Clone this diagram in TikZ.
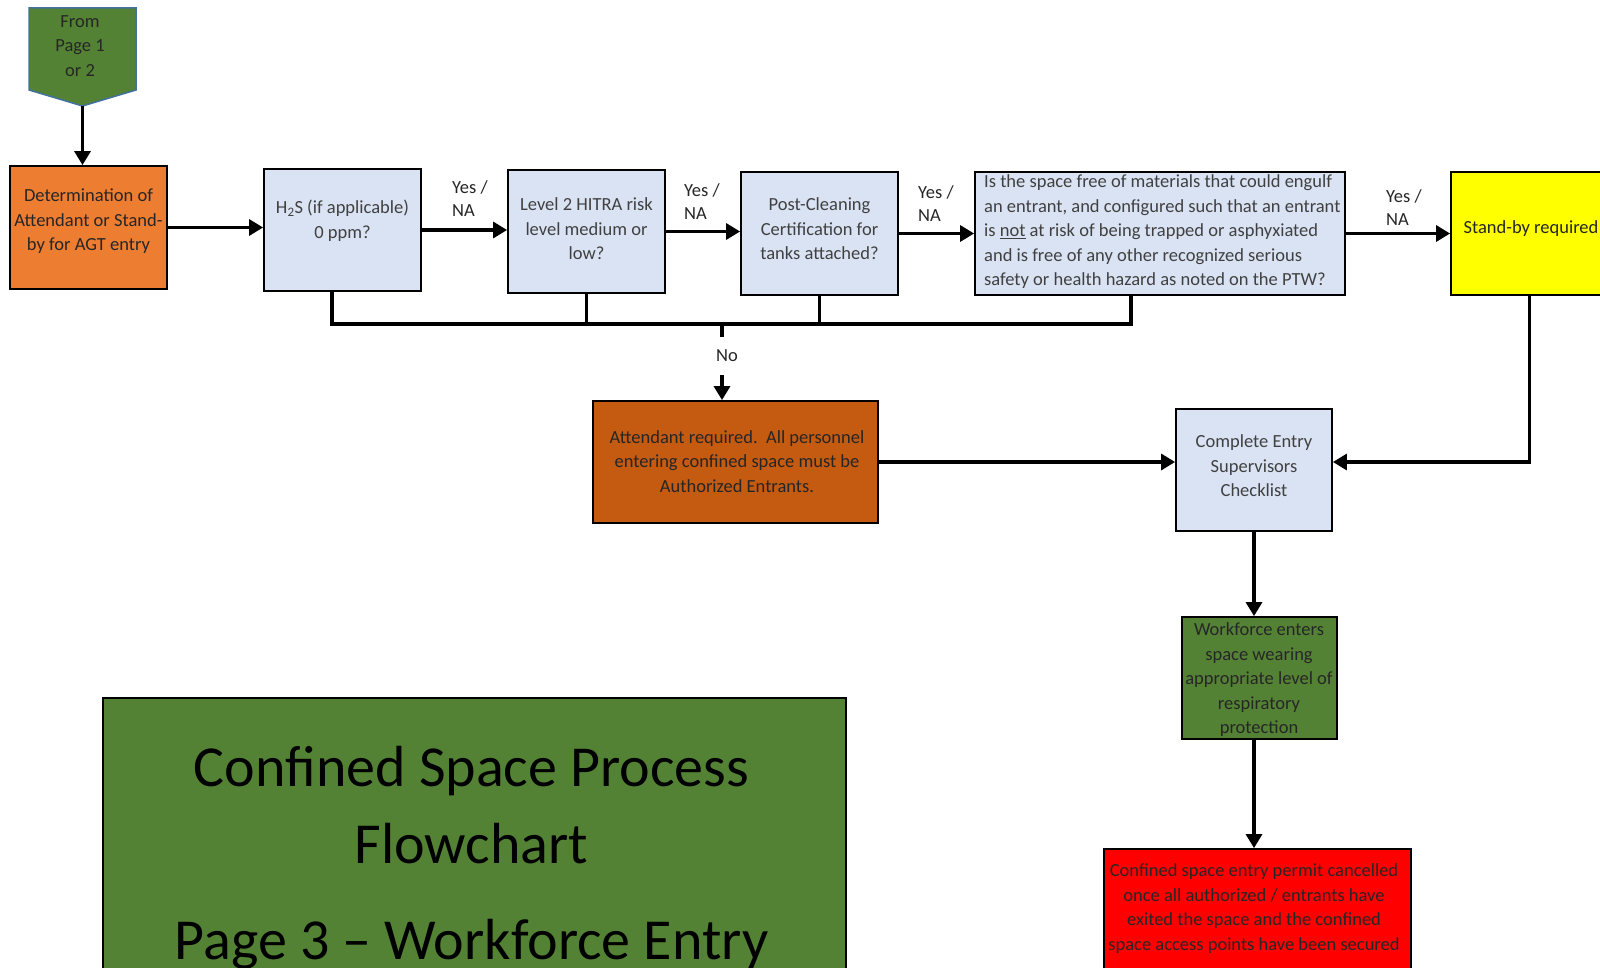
\documentclass[tikz,border=0pt]{standalone}
\usepackage{fontspec}
\setmainfont{Carlito}
\usetikzlibrary{arrows.meta}
\definecolor{cOrange}{HTML}{ED7D31}
\definecolor{cBlue}{HTML}{DAE3F3}
\definecolor{cYellow}{HTML}{FFFF00}
\definecolor{cDOrange}{HTML}{C55A11}
\definecolor{cGreen}{HTML}{548235}
\definecolor{cRed}{HTML}{FF0000}
\definecolor{cPentLine}{HTML}{41719C}
\definecolor{cTxtBlue}{HTML}{404040}
\begin{document}
\begin{tikzpicture}[x=1pt,y=-1pt,
  box/.style={draw=black, line width=1.8pt, minimum width=157pt, minimum height=123pt, inner sep=0pt},
  txt/.style={font=\fontsize{18.5}{24.5}\selectfont, align=center, inner sep=0pt, text=black!85},
  btxt/.style={txt, text=cTxtBlue},
  lab/.style={font=\fontsize{18.5}{23}\selectfont, align=left, inner sep=0pt, text=black!85},
  arr/.style={line width=3.2pt, -{Triangle[length=14pt,width=16pt]}},
  wire/.style={line width=3.2pt, line join=miter},
  ttl/.style={font=\fontsize{58}{70}\selectfont, inner sep=0pt, anchor=base, text=black}
]
\useasboundingbox (0,0) rectangle (1600,968);
\clip (0,0) rectangle (1600,968);

% off-page connector
\draw[fill=cGreen, draw=cPentLine, line width=1.5pt] (29,8) -- (136,8) -- (136,90) -- (82.5,106) -- (29,90) -- cycle;
\node[txt] (from) at (80,46) {From\\Page 1\\or 2};
\coordinate (pentpt) at (82.5,106);

% top row
\node[box, fill=cOrange] (det) at (88.5,227.5) {};
\node[txt] (dett) at (88.5,221.5) {Determination of\\Attendant or Stand-\\by for AGT entry};

\node[box, fill=cBlue, minimum height=122pt] (h2s) at (342.5,230) {};
\node[btxt] (h2st) at (342.5,220.5) {H\textsubscript{2}S (if applicable)\\0 ppm?};

\node[box, fill=cBlue] (l2) at (586.5,231.5) {};
\node[btxt] (l2t) at (586.5,229) {Level 2 HITRA risk\\level medium or\\low?};

\node[box, fill=cBlue] (pc) at (819.5,233.5) {};
\node[btxt] (pct) at (819.5,229) {Post-Cleaning\\Certification for\\tanks attached?};

\node[box, fill=cBlue, minimum width=370pt] (big) at (1160,233.5) {};
\node[btxt, align=left, anchor=west] (bigt) at (984,232) {Is the space free of materials that could engulf\\an entrant, and configured such that an entrant\\is \underline{not} at risk of being trapped or asphyxiated\\and is free of any other recognized serious\\safety or health hazard as noted on the PTW?};

\node[box, fill=cYellow] (sb) at (1529.5,233.5) {};
\node[txt] (sbt) at (1531,228.5) {Stand-by required};

% labels
\node[lab, anchor=west] (y1) at (452,198.5) {Yes /\\NA};
\node[lab, anchor=west] (y2) at (684,202) {Yes /\\NA};
\node[lab, anchor=west] (y3) at (918,203.5) {Yes /\\NA};
\node[lab, anchor=west] (y4) at (1386,207.5) {Yes /\\NA};

% middle
\node[box, fill=cDOrange, minimum width=285pt, minimum height=122pt] (att) at (735.5,462) {};
\node[txt] (attt) at (737,461.5) {Attendant required.\ \ All personnel\\entering confined space must be\\Authorized Entrants.};

\node[box, fill=cBlue, minimum width=156pt, minimum height=122pt] (ce) at (1254,470) {};
\node[btxt] (cet) at (1254,466) {Complete Entry\\Supervisors\\Checklist};

\node[box, fill=cGreen, minimum width=155pt, minimum height=122pt] (wf) at (1259.5,678) {};
\node[txt] (wft) at (1259,680) {Workforce enters\\space wearing\\appropriate level of\\respiratory\\protection};

\node[box, fill=cRed, minimum width=307pt, minimum height=141pt] (red) at (1257.5,919.5) {};
\node[txt] (redt) at (1254,908.5) {Confined space entry permit cancelled\\once all authorized / entrants have\\exited the space and the confined\\space access points have been secured};

% title
\node[box, fill=cGreen, minimum width=743pt, minimum height=292pt] (title) at (474.5,844) {};
\node[ttl] (ttl1) at (471.5,786) {Confined Space Process};
\node[ttl] (ttl2) at (471.5,863) {Flowchart};
\node[ttl] (ttl3) at (471.5,959) {Page 3 – Workforce Entry};

% connectors
\draw[arr] (pentpt) -- (pentpt |- det.north);
\draw[arr] (det.east) -- (det.east -| h2s.west);
\draw[arr] (h2s.east) -- (h2s.east -| l2.west);
\draw[arr] (l2.east) -- (l2.east -| pc.west);
\draw[arr] (pc.east) -- (pc.east -| big.west);
\draw[arr] (big.east) -- (big.east -| sb.west);

\coordinate (b1) at (332,324);
\coordinate (b4) at (1131,324);
\coordinate (bm) at (722,324);
\draw[wire] (h2s.south -| b1) -- (b1) -- (b4) -- (big.south -| b4);
\draw[wire] (l2.south) -- (l2.south |- b1);
\draw[wire] (pc.south) -- (pc.south |- b1);

\node[lab, inner ysep=13pt, inner xsep=1pt] (no) at (727,356) {No};
\draw[wire] (bm) -- (bm |- no.north);
\draw[arr] (bm |- no.south) -- (bm |- att.north);

\draw[arr] (att.east) -- (att.east -| ce.west);
\draw[arr] (sb.south) |- (ce.east |- att.east);
\draw[arr] (ce.south) -- (ce.south |- wf.north);
\draw[arr] (ce.south |- wf.south) -- (ce.south |- red.north);
\end{tikzpicture}
\end{document}
